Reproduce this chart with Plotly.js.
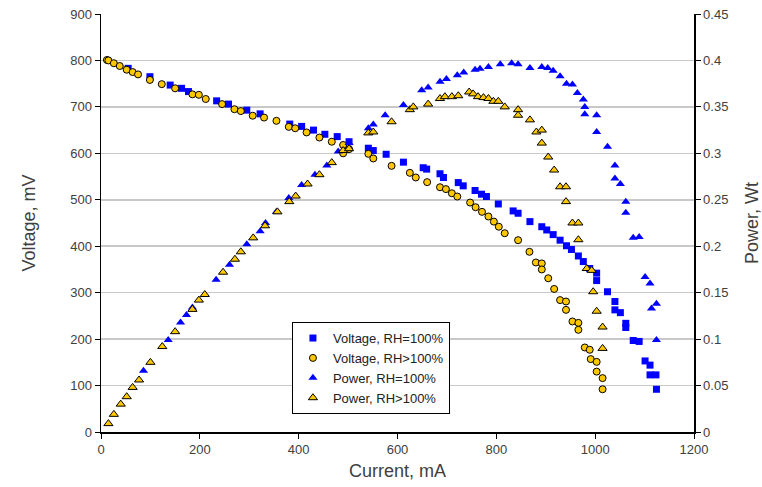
<!DOCTYPE html>
<html><head><meta charset="utf-8">
<script src="https://cdn.plot.ly/plotly-3.0.1.min.js"></script>
<style>body{margin:0;background:#fff}#c{width:762px;height:487px}</style>
</head><body><div id="c"></div>
<script>
// Voltage, RH=100% (mA, mV)
const vA_I = [55,99,140,163,177,234,258,295,322,382,406,430,453,478,502,541,551,577,612,652,659,686,693,723,733,757,770,780,804,834,844,868,892,902,915,929,942,952,966,976,989,1003,1003,1025,1040,1040,1051,1062,1062,1077,1089,1101,1111,1111,1123,1124];
const vA_V = [783,765,747,740,733,713,706,693,685,663,658,650,641,636,625,611,606,598,581,569,566,556,548,537,530,520,512,507,491,476,471,453,442,435,425,413,401,393,379,367,352,342,326,302,281,263,257,234,225,197,195,153,144,123,123,92];
// Voltage, RH>100%
const vB_I = [12,15,26,38,52,64,75,99,123,150,185,198,212,245,270,283,307,330,355,380,393,416,442,467,490,490,502,541,551,588,625,637,660,686,698,710,721,747,758,771,784,795,805,817,844,867,880,892,892,905,917,929,941,941,954,966,966,979,989,991,1003,1003,1015,1015];
const vB_V = [801,800,794,788,780,775,770,758,749,740,727,726,717,706,695,691,681,677,670,657,654,645,634,625,618,600,609,599,589,573,558,548,538,527,523,514,507,494,484,474,464,453,442,428,413,388,365,363,350,331,308,284,281,263,238,235,220,182,177,157,151,130,116,92];
// Power, RH=100% (mA, W)
const pA_I = [86,136,161,173,185,233,260,295,322,333,355,380,406,433,457,480,502,541,551,575,612,649,662,686,699,721,734,757,767,784,808,831,844,868,892,904,915,929,942,954,964,976,979,979,1003,1003,1025,1040,1040,1051,1062,1062,1077,1089,1101,1111,1114,1124,1124];
const pA_P = [0.066,0.099,0.118,0.126,0.134,0.164,0.180,0.202,0.216,0.225,0.237,0.252,0.266,0.277,0.287,0.302,0.311,0.327,0.331,0.341,0.352,0.368,0.371,0.377,0.380,0.384,0.387,0.390,0.391,0.393,0.396,0.397,0.396,0.392,0.393,0.392,0.389,0.383,0.375,0.374,0.365,0.358,0.350,0.342,0.341,0.323,0.307,0.287,0.273,0.267,0.248,0.236,0.209,0.210,0.167,0.160,0.133,0.138,0.099];
// Power, RH>100%
const pB_I = [15,26,40,52,64,77,100,124,150,185,198,210,247,271,283,308,332,357,381,394,418,442,467,490,502,541,551,588,625,632,662,686,696,710,723,745,753,763,774,784,794,804,817,844,844,868,881,892,892,905,917,929,941,941,954,966,966,983,993,996,1003,1015,1015];
const pB_P = [0.009,0.019,0.030,0.038,0.048,0.056,0.075,0.092,0.108,0.132,0.142,0.148,0.172,0.186,0.194,0.209,0.222,0.237,0.248,0.254,0.267,0.277,0.290,0.303,0.305,0.322,0.323,0.334,0.347,0.350,0.353,0.359,0.361,0.361,0.362,0.366,0.364,0.361,0.360,0.359,0.356,0.356,0.350,0.347,0.341,0.336,0.323,0.325,0.311,0.296,0.282,0.264,0.264,0.248,0.225,0.225,0.207,0.176,0.174,0.151,0.130,0.113,0.090];

const BLUE = '#0000ff', YEL = '#FFC800';
const traces = [
  {x:vA_I, y:vA_V, name:'Voltage, RH=100%', type:'scatter', mode:'markers',
   marker:{symbol:'square', size:7, color:BLUE}},
  {x:vB_I, y:vB_V, name:'Voltage, RH>100%', type:'scatter', mode:'markers',
   marker:{symbol:'circle', size:7, color:YEL, line:{color:'#000', width:1}}},
  {x:pA_I, y:pA_P, name:'Power, RH=100%', type:'scatter', mode:'markers', yaxis:'y2',
   marker:{symbol:'triangle-up', size:8, color:BLUE}},
  {x:pB_I, y:pB_P, name:'Power, RH>100%', type:'scatter', mode:'markers', yaxis:'y2',
   marker:{symbol:'triangle-up', size:8, color:YEL, line:{color:'#000', width:1}}}
];
const tickfont = {family:'Liberation Sans, Arial, sans-serif', size:13, color:'#404040'};
const titlefont = {family:'Liberation Sans, Arial, sans-serif', size:18, color:'#404040'};
const layout = {
  width:762, height:487,
  margin:{l:101, r:68, t:14, b:55},
  paper_bgcolor:'#fff', plot_bgcolor:'#fff',
  showlegend:true,
  legend:{x:0.322, y:0.263, xanchor:'left', yanchor:'top', bgcolor:'#fff',
    bordercolor:'#000', borderwidth:1,
    font:{family:'Liberation Sans, Arial, sans-serif', size:13, color:'#222'},
    tracegroupgap:0, itemwidth:30},
  xaxis:{range:[0,1200], dtick:200, tick0:0, showgrid:false, zeroline:false,
    showline:true, linecolor:'#000', linewidth:1.5, ticks:'outside', ticklen:5, tickcolor:'#000',
    tickfont:tickfont, title:{text:'Current, mA', font:titlefont, standoff:8}},
  yaxis:{range:[0,900], dtick:100, tick0:0, showgrid:true, gridcolor:'#c8c8c8', gridwidth:1.5,
    zeroline:false, showline:true, linecolor:'#000', linewidth:1.5, ticks:'outside', ticklen:5, tickcolor:'#000',
    tickfont:tickfont, title:{text:'Voltage, mV', font:titlefont, standoff:30}},
  yaxis2:{range:[0,0.45], dtick:0.05, tick0:0, overlaying:'y', side:'right', showgrid:false,
    zeroline:false, showline:true, linecolor:'#000', linewidth:1.5, ticks:'outside', ticklen:5, tickcolor:'#000',
    tickfont:tickfont, title:{text:'Power, Wt', font:titlefont, standoff:20}}
};
Plotly.newPlot('c', traces, layout, {displayModeBar:false, staticPlot:true});
</script></body></html>
